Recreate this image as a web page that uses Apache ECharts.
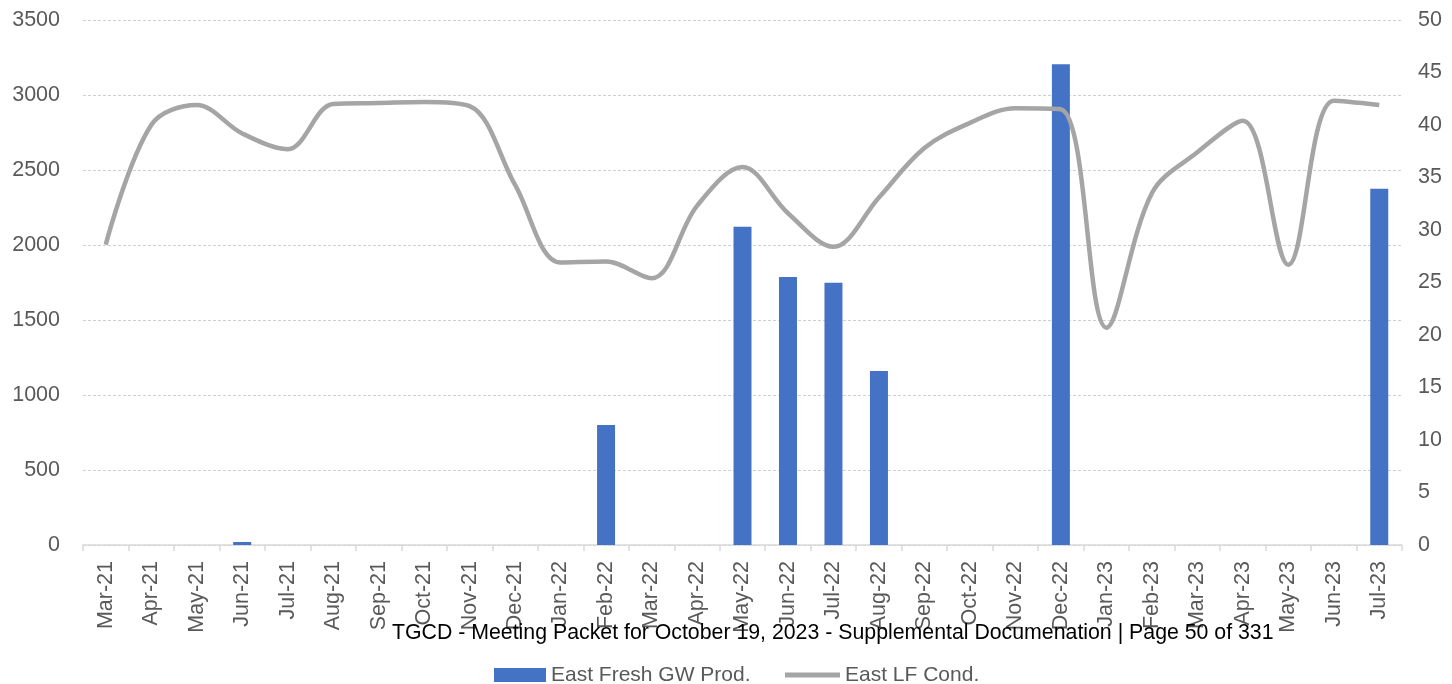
<!DOCTYPE html>
<html>
<head>
<meta charset="utf-8">
<script src="https://cdn.jsdelivr.net/npm/echarts@6/dist/echarts.min.js"></script>
<style>
  html, body { margin: 0; padding: 0; background: #ffffff; }
  #chart { width: 1452px; height: 684px; }
</style>
</head>
<body>
<div id="chart"></div>
<script>
// Monthly categories
const months = [
  'Mar-21','Apr-21','May-21','Jun-21','Jul-21','Aug-21','Sep-21','Oct-21','Nov-21','Dec-21',
  'Jan-22','Feb-22','Mar-22','Apr-22','May-22','Jun-22','Jul-22','Aug-22','Sep-22','Oct-22','Nov-22','Dec-22',
  'Jan-23','Feb-23','Mar-23','Apr-23','May-23','Jun-23','Jul-23'
];

// East fresh groundwater production (left axis)
const freshGwProd = [
  0, 0, 0, 20, 0, 0, 0, 0, 0, 0,
  0, 800, 0, 0, 2122, 1787, 1749, 1160, 0, 0, 0, 3205,
  0, 0, 0, 0, 0, 0, 2375
];

// East LF conductivity (right axis)
const lfCond = [
  28.6, 40.0, 41.9, 39.2, 37.7, 42.0, 42.1, 42.2, 41.8, 34.3,
  26.9, 27.0, 25.4, 32.3, 36.0, 31.6, 28.4, 33.1, 37.8, 40.2, 41.6, 41.5,
  20.7, 33.5, 37.4, 40.4, 26.7, 42.3, 41.9
];

const seriesNames = ['East Fresh GW Prod.', 'East LF Cond.'];
const footerText = 'TGCD - Meeting Packet for October 19, 2023 - Supplemental Documenation | Page 50 of 331';

const axisFont = 'Liberation Sans';
const labelColor = '#595959';
const barColor = '#4472c4';
const lineColor = '#a5a5a5';

const legendText = { fontFamily: axisFont, fontSize: 21, color: labelColor, lineHeight: 22 };

const chart = echarts.init(document.getElementById('chart'), null, { renderer: 'canvas' });

chart.setOption({
  animation: false,
  backgroundColor: '#ffffff',
  grid: { left: 83, right: 50, top: 20, bottom: 139, containLabel: false },
  legend: [
    {
      left: 494,
      top: 664,
      padding: 0,
      itemWidth: 52,
      itemHeight: 14,
      textStyle: legendText,
      data: [{ name: seriesNames[0], icon: 'rect' }]
    },
    {
      left: 785,
      top: 664,
      padding: 0,
      itemWidth: 55,
      itemHeight: 14,
      symbolKeepAspect: true,
      textStyle: legendText,
      data: [{ name: seriesNames[1], icon: 'path://M0,0H55V5H0Z' }]
    }
  ],
  xAxis: {
    type: 'category',
    data: months,
    boundaryGap: true,
    axisLine: { lineStyle: { color: '#d9d9d9', width: 1.5 } },
    axisTick: { show: true, length: 6, alignWithLabel: false, lineStyle: { color: '#d9d9d9', width: 1.5 } },
    axisLabel: {
      rotate: 90,
      interval: 0,
      margin: 16,
      fontFamily: axisFont,
      fontSize: 21.5,
      color: labelColor
    }
  },
  yAxis: [
    {
      type: 'value',
      min: 0,
      max: 3500,
      interval: 500,
      axisLine: { show: false },
      axisTick: { show: false },
      axisLabel: {
        margin: 23,
        fontFamily: axisFont,
        fontSize: 21.5,
        color: labelColor,
        formatter: (v) => String(v)
      },
      splitLine: { show: true, lineStyle: { color: '#cfcfcf', width: 1, type: [3, 2] } }
    },
    {
      type: 'value',
      min: 0,
      max: 50,
      interval: 5,
      position: 'right',
      axisLine: { show: false },
      axisTick: { show: false },
      axisLabel: {
        margin: 16,
        fontFamily: axisFont,
        fontSize: 21.5,
        color: labelColor,
        formatter: (v) => String(v)
      },
      splitLine: { show: false }
    }
  ],
  series: [
    {
      name: seriesNames[0],
      type: 'bar',
      yAxisIndex: 0,
      data: freshGwProd,
      barWidth: 18,
      itemStyle: { color: barColor },
      z: 2
    },
    {
      name: seriesNames[1],
      type: 'line',
      yAxisIndex: 1,
      data: lfCond,
      smooth: 0.35,
      symbol: 'none',
      lineStyle: { color: lineColor, width: 4.5 },
      itemStyle: { color: lineColor },
      z: 3
    }
  ],
  graphic: [
    {
      type: 'text',
      left: 392,
      top: 623,
      z: 100,
      style: {
        text: footerText,
        fontFamily: 'Liberation Sans',
        fontSize: 21.3,
        fill: '#000000'
      }
    }
  ]
});
</script>
</body>
</html>
